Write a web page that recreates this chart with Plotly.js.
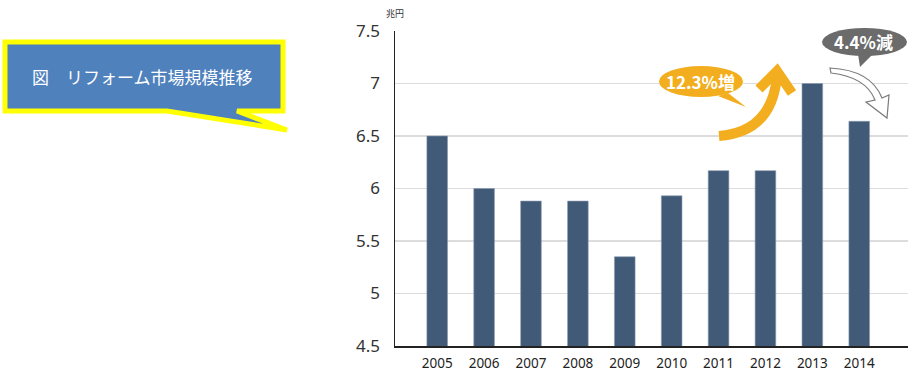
<!DOCTYPE html>
<html>
<head>
<meta charset="utf-8">
<script src="https://cdn.plot.ly/plotly-3.0.1.min.js"></script>
<style>
html,body{margin:0;padding:0;background:#fff;}
#chart{width:920px;height:373px;}
</style>
</head>
<body>
<div id="chart"></div>
<script>
// ---- data ----
const years = ["2005","2006","2007","2008","2009","2010","2011","2012","2013","2014"];
const values = [6.5, 6.0, 5.88, 5.88, 5.35, 5.93, 6.17, 6.17, 7.0, 6.64];
const yTicks = [4.5, 5, 5.5, 6, 6.5, 7, 7.5];
const yTickLabels = ["4.5", "5", "5.5", "6", "6.5", "7", "7.5"];
const unitLabel = "兆円";
const titleText = "図\u3000リフォーム市場規模推移";
const upLabel = "12.3%増";
const downLabel = "4.4%減";

// ---- layout geometry (pixels) ----
const W = 920, H = 373;
const L = 395, R = 12, T = 31, B = 27;
const PW = W - L - R, PH = H - T - B;
const px = x => ((x - L) / PW).toFixed(5);
const py = y => ((H - B - y) / PH).toFixed(5);
// convert a path written in pixel coords to paper coords
function path(cmds) {
  return cmds.map(c => {
    if (typeof c === 'string') return c;
    return px(c[0]) + ',' + py(c[1]);
  }).join(' ');
}

const shapes = [
  // title callout
  { type: 'path', xref: 'paper', yref: 'paper', layer: 'above',
    path: path(['M', [5, 42], 'L', [283, 42], 'L', [283, 111], 'L', [237, 111], 'L', [287, 130], 'L', [167, 111], 'L', [5, 111], 'Z']),
    fillcolor: '#4F81BD', line: { color: '#FFFF00', width: 5 } },
  // orange bubble
  { type: 'path', xref: 'paper', yref: 'paper', layer: 'above',
    path: path(['M', [728, 93], 'L', [746, 107], 'L', [718, 96], 'Z']),
    fillcolor: '#F2AE1F', line: { width: 0 } },
  { type: 'circle', xref: 'paper', yref: 'paper', layer: 'above',
    x0: px(659), x1: px(743), y0: py(97), y1: py(66),
    fillcolor: '#F2AE1F', line: { width: 0 } },
  // orange arrow
  { type: 'path', xref: 'paper', yref: 'paper', layer: 'above',
    path: path(['M', [719, 136], 'Q', [772, 132], [777, 76]]),
    line: { color: '#F2AE1F', width: 10 } },
  { type: 'path', xref: 'paper', yref: 'paper', layer: 'above',
    path: path(['M', [759, 89], 'L', [777, 71], 'L', [792, 93]]),
    line: { color: '#F2AE1F', width: 10 } },
  // grey bubble
  { type: 'path', xref: 'paper', yref: 'paper', layer: 'above',
    path: path(['M', [858, 54], 'L', [860, 67], 'L', [873, 54], 'Z']),
    fillcolor: '#6B6B6B', line: { width: 0 } },
  { type: 'circle', xref: 'paper', yref: 'paper', layer: 'above',
    x0: px(822), x1: px(907), y0: py(56), y1: py(28),
    fillcolor: '#6B6B6B', line: { width: 0 } },
  // white outlined arrow
  { type: 'path', xref: 'paper', yref: 'paper', layer: 'above',
    path: path(['M', [830, 68], 'Q', [871, 70], [882, 98], 'L', [889, 95], 'L', [887, 118],
                'L', [866, 102], 'L', [875, 100], 'Q', [866, 77], [831, 73], 'Z']),
    fillcolor: '#FFFFFF', line: { color: '#7A7A7A', width: 1.2 } }
];

const annotations = [
  { xref: 'paper', yref: 'paper', x: px(143), y: py(77), text: titleText, showarrow: false,
    xanchor: 'center', yanchor: 'middle',
    font: { family: 'Noto Sans CJK JP', size: 17, color: '#FFFFFF' } },
  { xref: 'paper', yref: 'paper', x: px(384), y: py(13), text: unitLabel, showarrow: false,
    xanchor: 'left', yanchor: 'middle',
    font: { family: 'Noto Sans CJK JP', size: 9, color: '#333333' } },
  { xref: 'paper', yref: 'paper', x: px(701), y: py(82), text: '<b>' + upLabel + '</b>', showarrow: false,
    xanchor: 'center', yanchor: 'middle',
    font: { family: 'Noto Sans CJK JP', size: 17, color: '#FFFFFF' } },
  { xref: 'paper', yref: 'paper', x: px(864), y: py(42), text: '<b>' + downLabel + '</b>', showarrow: false,
    xanchor: 'center', yanchor: 'middle',
    font: { family: 'Noto Sans CJK JP', size: 17, color: '#FFFFFF' } }
];

const trace = {
  type: 'bar', x: years, y: values,
  marker: { color: '#405A78', line: { color: '#8A9AAE', width: 0.6 } },
  hoverinfo: 'skip'
};

const layout = {
  width: W, height: H,
  margin: { l: L, r: R, t: T, b: B, pad: 0 },
  paper_bgcolor: '#FFFFFF', plot_bgcolor: '#FFFFFF',
  showlegend: false,
  bargap: 0.56,
  xaxis: {
    type: 'category', range: [-0.9, 10.04],
    showgrid: false, zeroline: false,
    showline: true, linecolor: '#222222', linewidth: 1.5,
    ticks: '', ticklabelstandoff: 4,
    tickfont: { family: 'Noto Sans', size: 13.5, color: '#222222' }
  },
  yaxis: {
    range: [4.5, 7.5], tickvals: yTicks, ticktext: yTickLabels,
    showgrid: true, gridcolor: '#DDDDDD', gridwidth: 1.5,
    zeroline: false,
    showline: true, linecolor: '#222222', linewidth: 1.5,
    ticks: '', ticklabelstandoff: 10,
    tickfont: { family: 'Noto Sans', size: 17, color: '#333333' }
  },
  shapes: shapes,
  annotations: annotations
};

Plotly.newPlot('chart', [trace], layout, { staticPlot: true, displayModeBar: false });
</script>
</body>
</html>
